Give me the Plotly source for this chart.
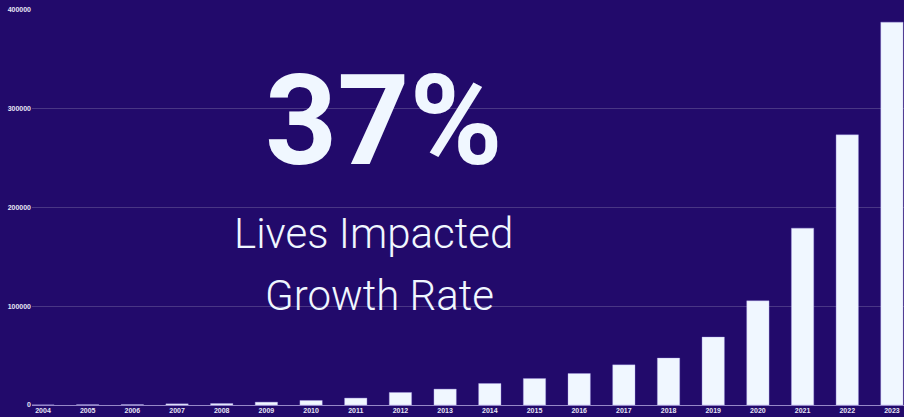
import plotly.graph_objects as go

# data
years = [str(y) for y in range(2004, 2024)]
lives = [100, 300, 400, 1200, 1500, 2900, 4600, 7000, 12700, 16100,
         21800, 26800, 31900, 40700, 47500, 68800, 105500, 179100, 273600, 387700]
y_ticks = [0, 100000, 200000, 300000, 400000]

BG = "#220a6b"
BAR = "#f0f7ff"

fig = go.Figure()
fig.add_trace(go.Bar(
    x=years, y=lives,
    marker=dict(color=BAR, line=dict(color="rgba(170,160,235,0.6)", width=0.6)),
    showlegend=False,
))

# big headline text in the middle of the chart
fig.add_annotation(
    text="37%", xref="paper", yref="paper", x=0.404, y=0.72,
    showarrow=False, xanchor="center", yanchor="middle",
    font=dict(family="Roboto", size=126, color=BAR, weight=700),
)
fig.add_annotation(
    text="Lives Impacted", xref="paper", yref="paper", x=0.392, y=0.433,
    showarrow=False, xanchor="center", yanchor="middle",
    font=dict(family="Roboto", size=42, color=BAR, weight=300),
)
fig.add_annotation(
    text="Growth Rate", xref="paper", yref="paper", x=0.398, y=0.277,
    showarrow=False, xanchor="center", yanchor="middle",
    font=dict(family="Roboto", size=42, color=BAR, weight=300),
)

fig.update_layout(
    width=904, height=417,
    paper_bgcolor=BG, plot_bgcolor=BG,
    margin=dict(l=32, r=0, t=10, b=12),
    bargap=0.5,
    font=dict(family="Liberation Sans", color="#e6e6f5"),
)
fig.update_xaxes(
    type="category", range=[-0.246, 19.27],
    tickfont=dict(size=7, weight="bold"), ticklen=0, showgrid=False,
)
fig.update_yaxes(
    range=[0, 400000], tickvals=y_ticks, ticktext=[str(v) for v in y_ticks],
    tickfont=dict(size=7, weight="bold"),
    gridcolor="rgba(255,255,255,0.18)", gridwidth=1,
    zeroline=True, zerolinecolor="rgba(200,190,240,0.7)", zerolinewidth=1,
)

fig.write_html("out.html", config={"displayModeBar": False},
               post_script="document.body.style.margin='0';")
